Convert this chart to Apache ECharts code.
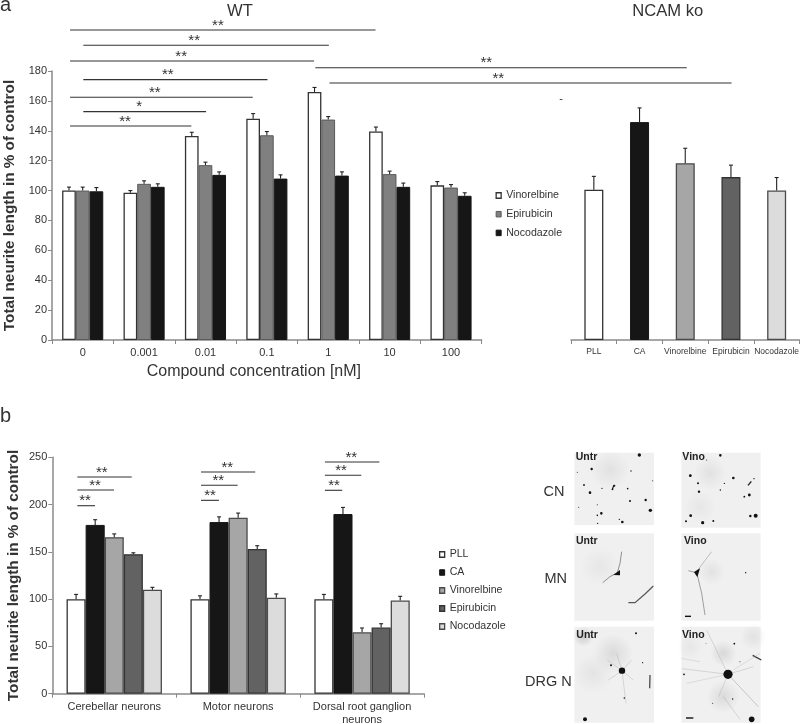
<!DOCTYPE html>
<html><head><meta charset="utf-8">
<style>html,body{margin:0;padding:0;background:#fff}#c{width:800px;height:724px}</style>
<script src="https://cdn.jsdelivr.net/npm/echarts@6/dist/echarts.min.js"></script>
</head><body><div id="c"></div>
<script>
// ---------- data ----------
const concentrations = ['0','0.001','0.01','0.1','1','10','100'];
const vinorelbineWT = [100,98.5,136.5,148,166,139.5,103.5];
const epirubicinWT  = [100,104.5,117,137,147.5,111,102];
const nocodazoleWT  = [99.5,102.5,110.5,108,110,102.5,96.5];
const vinorelbineWTTop = [102.3,100,139,151.5,169,142.5,106];
const epirubicinWTTop  = [102.3,106.5,119,139.5,149.5,113,104];
const nocodazoleWTTop  = [102,104.5,112.5,110.5,112.5,105,98.5];

const koCategories = ['PLL','CA','Vinorelbine','Epirubicin','Nocodazole'];
const koValues = [100.5,145.8,118.3,109,100];
const koTops   = [109.5,155.3,128.3,117,108.7];

const neuronTypes = ['Cerebellar neurons','Motor neurons','Dorsal root ganglion\nneurons'];
const pllB  = [100,100,100];
const caB   = [178.5,181.5,190];
const vinB  = [165.5,186,65];
const epiB  = [147.5,153,70];
const nocB  = [110,101.5,98.5];
const pllBTop = [105,103.5,105];
const caBTop  = [184,187,197];
const vinBTop = [169,191,69.5];
const epiBTop = [149,156.5,74];
const nocBTop = [112.5,105.5,103];

// significance: [band start, band end, value level, star band position, text]
const sigA = [
 [0.294,5.27,207.4,2.703,'**'],[0.51,4.51,197.2,2.316,'**'],[0.294,4.27,186.7,2.104,'**'],
 [0.51,3.51,174.2,1.887,'**'],[0.294,3.27,162.4,1.675,'**'],[0.51,2.51,152.8,1.419,'*'],
 [0.294,2.27,143.2,1.191,'**'],[4.29,10.34,182.2,7.075,'**'],[4.52,11.07,172,7.27,'**']
];
const sigB = [
 [0.202,0.345,198.8,0.264,'**'],[0.202,0.498,215.4,0.345,'**'],[0.202,0.641,229.2,0.399,'**'],
 [1.2,1.345,204.5,1.273,'**'],[1.2,1.496,220.4,1.34,'**'],[1.2,1.638,234.5,1.413,'**'],
 [2.2,2.34,215.1,2.274,'**'],[2.2,2.494,231,2.33,'**'],[2.2,2.64,245,2.413,'**']
];

// ---------- styles ----------
const TXT='#333', AX='#8a8a8a', FONT='"Liberation Sans",Arial,sans-serif';
const cWhite={color:'#fff',borderColor:'#333',borderWidth:1.3};
const cGrayA={color:'#808080',borderColor:'#5a5a5a',borderWidth:1};
const cBlack={color:'#161616',borderColor:'#161616',borderWidth:1};
const cVin={color:'#a6a6a6',borderColor:'#4a4a4a',borderWidth:1.3};
const cEpi={color:'#626262',borderColor:'#333',borderWidth:1.3};
const cNoc={color:'#dcdcdc',borderColor:'#4a4a4a',borderWidth:1.3};

function bar(name,data,style,g,extra){
  return Object.assign({type:'bar',name,data,xAxisIndex:g,yAxisIndex:g,itemStyle:style,barGap:0,z:2},extra||{});
}
function err(tops,vals,idx,n,frac,g){
  return {type:'custom',xAxisIndex:g,yAxisIndex:g,z:3,silent:true,
    data:tops.map((t,i)=>[i,t,vals[i]]),encode:{x:0,y:1},
    renderItem(p,api){
      const band=api.size([1,0])[0], w=band*frac/n;
      const c=api.coord([api.value(0),api.value(1)]);
      const b=api.coord([api.value(0),api.value(2)]);
      const x=c[0]+(idx-(n-1)/2)*w;
      const st={stroke:'#222',lineWidth:1.1,fill:null};
      return {type:'group',children:[
        {type:'line',shape:{x1:x,y1:b[1],x2:x,y2:c[1]},style:st},
        {type:'line',shape:{x1:x-2,y1:c[1],x2:x+2,y2:c[1]},style:st}]};
    }};
}
function sig(list,g){
  return {type:'custom',xAxisIndex:g,yAxisIndex:g,z:4,silent:true,clip:false,
    data:list.map(s=>[0,s[2]]),encode:{x:0,y:1},
    renderItem(p,api){
      const s=list[p.dataIndex], band=api.size([1,0])[0];
      const left=api.coord([0,0])[0]-band/2, y=api.coord([0,s[2]])[1];
      return {type:'group',children:[
        {type:'line',shape:{x1:left+s[0]*band,y1:y,x2:left+s[1]*band,y2:y},style:{stroke:'#333',lineWidth:1.1}},
        {type:'text',style:{text:s[4],x:left+s[3]*band,y:y-4.5,align:'center',verticalAlign:'middle',
          font:'15px '+FONT,fill:'#333',letterSpacing:1}}]};
    }};
}
function xAx(g,data,lab,ext){
  return Object.assign({type:'category',gridIndex:g,data,
    axisLine:{show:true,lineStyle:{color:AX,width:1.5}},
    axisTick:{show:true,length:4,alignWithLabel:false,lineStyle:{color:AX,width:1}},
    axisLabel:Object.assign({color:TXT,fontFamily:FONT,interval:0,hideOverlap:false},lab),
    splitLine:{show:false}},ext||{});
}
function yAx(g,max,iv,name,show,gap){
  return {type:'value',gridIndex:g,min:0,max,interval:iv,show,name,nameLocation:'middle',nameGap:gap,
    nameTextStyle:{color:TXT,fontFamily:FONT,fontSize:15.3,fontWeight:'bold'},
    axisLine:{show:true,lineStyle:{color:AX,width:1.5}},
    axisTick:{show:true,length:4,lineStyle:{color:AX,width:1}},
    axisLabel:{color:TXT,fontFamily:FONT,fontSize:11,margin:5},
    splitLine:{show:false}};
}
function legend(left,top,gap,items){
  return {orient:'vertical',left,top,padding:0,itemGap:gap,itemWidth:5,itemHeight:5.5,icon:'rect',selectedMode:false,
    textStyle:{color:TXT,fontFamily:FONT,fontSize:10.6},
    data:items.map(([name,st])=>({name,itemStyle:st}))};
}
function ttl(text,x,y,size,extra){
  return {text,left:x,top:y,padding:0,textAlign:(extra&&extra.align)||'left',
    textStyle:{color:TXT,fontFamily:FONT,fontSize:size,fontWeight:'normal'}};
}

// ---------- micrograph panels (crop pixels, mapped to page) ----------
const PX=x=>520+x/3, PY=y=>440+y/3;
const panelRects=[[163,38,402,255],[484,38,722,263],[163,280,402,542],[484,280,722,542],[163,560,402,848],[484,560,722,848]];
const blotches=[[270,90,60,.12],[570,100,50,.12],[240,380,60,.08],[575,395,40,.12],[190,590,30,.3],
 [280,640,60,.18],[220,700,60,.1],[610,640,40,.2],[610,770,50,.18],[510,620,40,.08],[700,590,40,.12],[540,200,50,.08]];
const dots=[[358,45,1.7],[215,87,1.2],[172,97,.5],[333,93,.7],[192,135,.9],[210,158,1.3],[283,137,1],[246,145,.7],[278,148,.8],[323,146,.8],
 [330,183,1],[377,180,1.2],[391,211,1.7],[232,194,.5],[176,202,.5],[244,220,1.3],[232,226,.8],[307,246,1.3],[298,238,.7],[233,250,.7],[398,122,.5],
 [601,46,1.3],[511,107,1.4],[534,130,1],[537,155,1.2],[601,150,.7],[640,114,1.3],[613,130,.7],[688,165,1.4],[673,170,.9],[702,116,.7],[512,227,1.4],[498,244,1],
 [548,248,1.6],[580,243,1],[691,228,1.2],[707,227,2],[560,60,.5],
 [677,398,.7],[348,580,1],[273,676,1],[368,668,.6],[313,774,.8],[195,838,2],[643,611,.9],[492,703,.9],[638,777,.7],[695,838,2.8],[578,790,.5],[558,610,.4],[660,665,.5],
 [306,692,3.2],[624,703,4.6]];
const strokes=[
 [[[305,335],[300,370],[292,398],[270,410],[248,428]],.7,'#666'],[[[325,488],[345,488],[375,462],[400,438]],1.2,'#555'],
 [[[575,335],[535,388]],.5,'#888'],[[[532,405],[545,460],[555,525]],.6,'#666'],[[[505,392],[528,398]],.6,'#666'],
 [[[495,529],[513,529]],1.4,'#111'],[[[498,834],[520,834]],1.4,'#111'],
 [[[282,135],[276,150]],1.2,'#222'],[[[684,136],[694,124]],1.4,'#222'],[[[698,646],[724,660]],1.3,'#333'],[[[390,705],[389,745]],1.4,'#555'],
 [[[306,692],[290,640]],.4,'#aaa'],[[[306,692],[335,660]],.4,'#aaa'],[[[306,692],[340,720]],.4,'#aaa'],[[[306,692],[318,790]],.4,'#aaa'],[[[306,692],[265,720]],.4,'#aaa'],[[[306,692],[262,660]],.4,'#aaa'],
 [[[624,703],[560,570]],.4,'#aaa'],[[[624,703],[486,686]],.4,'#aaa'],[[[624,703],[715,800]],.5,'#999'],[[[624,703],[700,680]],.4,'#aaa'],[[[624,703],[596,770]],.4,'#aaa'],[[[624,703],[500,730]],.4,'#bbb'],[[[610,770],[660,838]],.4,'#aaa'],
 [[[484,655],[540,665]],.4,'#bbb'],[[[640,690],[720,640]],.4,'#bbb']
];
const triangles=[[[280,405],[300,390],[300,406]],[[522,396],[540,385],[532,412]]];
const panelTags=[['Untr',167,50],['Vino',487,50],['Untr',168,302],['Vino',492,302],['Untr',169,585],['Vino',486,585]];
const rowTags=[['CN',102,155],['MN',107,418],['DRG N',85,726]];

const gfx=[];
panelRects.forEach(r=>gfx.push({type:'rect',shape:{x:PX(r[0]),y:PY(r[1]),width:(r[2]-r[0])/3,height:(r[3]-r[1])/3},style:{fill:'#f0f0f0'},z:1}));
blotches.forEach(b=>gfx.push({type:'circle',shape:{cx:PX(b[0]),cy:PY(b[1]),r:b[2]/3},z:2,silent:true,
  style:{fill:new echarts.graphic.RadialGradient(.5,.5,.5,[{offset:0,color:'rgba(120,120,120,'+b[3]+')'},{offset:1,color:'rgba(120,120,120,0)'}])}}));
strokes.forEach(s=>gfx.push({type:'polyline',shape:{points:s[0].map(p=>[PX(p[0]),PY(p[1])])},style:{stroke:s[2],lineWidth:s[1],fill:null},z:3}));
triangles.forEach(t=>gfx.push({type:'polygon',shape:{points:t.map(p=>[PX(p[0]),PY(p[1])])},style:{fill:'#111'},z:3}));
dots.forEach(d=>gfx.push({type:'circle',shape:{cx:PX(d[0]),cy:PY(d[1]),r:d[2]},style:{fill:'#111'},z:3}));
panelTags.forEach(t=>gfx.push({type:'text',style:{text:t[0],x:PX(t[1]),y:PY(t[2]),verticalAlign:'middle',font:'bold 10.5px '+FONT,fill:'#222'},z:4}));
rowTags.forEach(t=>gfx.push({type:'text',style:{text:t[0],x:PX(t[1]),y:PY(t[2]),align:'center',verticalAlign:'middle',font:'14.5px '+FONT,fill:TXT},z:4}));
gfx.push({type:'text',style:{text:'-',x:561,y:99,align:'center',verticalAlign:'middle',font:'11px '+FONT,fill:TXT},z:4});

const option={
  animation:false,backgroundColor:'#fff',
  title:[ttl('a',0,-5,20),ttl('b',0,406,20),ttl('WT',240,3,16.6,{align:'center'}),ttl('NCAM ko',667.7,3,16.6,{align:'center'})],
  legend:[
    legend(495.5,190,7.7,[['Vinorelbine',cWhite],['Epirubicin',cGrayA],['Nocodazole',cBlack]]),
    legend(439,549,7,[['PLL',cWhite],['CA',cBlack],['Vinorelbine',cVin],['Epirubicin',cEpi],['Nocodazole',cNoc]])
  ],
  grid:[
    {left:52,top:71,width:429.7,height:269,outerBoundsMode:'none'},
    {left:571,top:71,width:228.5,height:269,outerBoundsMode:'none'},
    {left:52.3,top:457.3,width:371.7,height:236.4,outerBoundsMode:'none'}
  ],
  xAxis:[
    xAx(0,concentrations,{fontSize:11,margin:7},{name:'Compound concentration [nM]',nameLocation:'middle',nameGap:24,
      nameTextStyle:{color:TXT,fontFamily:FONT,fontSize:16,padding:[0,26,0,0]}}),
    xAx(1,koCategories,{fontSize:8.5,margin:7}),
    xAx(2,neuronTypes,{fontSize:11,margin:7,lineHeight:13})
  ],
  yAxis:[
    yAx(0,180,20,'Total neurite length in % of control',true,31),
    yAx(1,180,20,'',false,0),
    yAx(2,250,50,'Total neurite length in % of control',true,31)
  ],
  series:[
    bar('Vinorelbine',vinorelbineWT,cWhite,0,{barCategoryGap:'33%'}),
    bar('Epirubicin',epirubicinWT,cGrayA,0,{barCategoryGap:'33%'}),
    bar('Nocodazole',nocodazoleWT,cBlack,0,{barCategoryGap:'33%'}),
    err(vinorelbineWTTop,vinorelbineWT,0,3,.67,0),
    err(epirubicinWTTop,epirubicinWT,1,3,.67,0),
    err(nocodazoleWTTop,nocodazoleWT,2,3,.67,0),
    sig(sigA,0),
    bar('NCAM ko',koValues.map((v,i)=>({value:v,itemStyle:[cWhite,cBlack,cVin,cEpi,cNoc][i]})),cWhite,1,{barWidth:19}),
    err(koTops,koValues,0,1,19/45.7,1),
    bar('PLL',pllB,cWhite,2,{barCategoryGap:'23%'}),
    bar('CA',caB,cBlack,2,{barCategoryGap:'23%'}),
    bar('Vinorelbine',vinB,cVin,2,{barCategoryGap:'23%'}),
    bar('Epirubicin',epiB,cEpi,2,{barCategoryGap:'23%'}),
    bar('Nocodazole',nocB,cNoc,2,{barCategoryGap:'23%'}),
    err(pllBTop,pllB,0,5,.77,2),err(caBTop,caB,1,5,.77,2),err(vinBTop,vinB,2,5,.77,2),err(epiBTop,epiB,3,5,.77,2),err(nocBTop,nocB,4,5,.77,2),
    sig(sigB,2)
  ],
  graphic:{elements:gfx}
};
const chart=echarts.init(document.getElementById('c'),null,{renderer:'canvas'});
chart.setOption(option);
</script></body></html>
